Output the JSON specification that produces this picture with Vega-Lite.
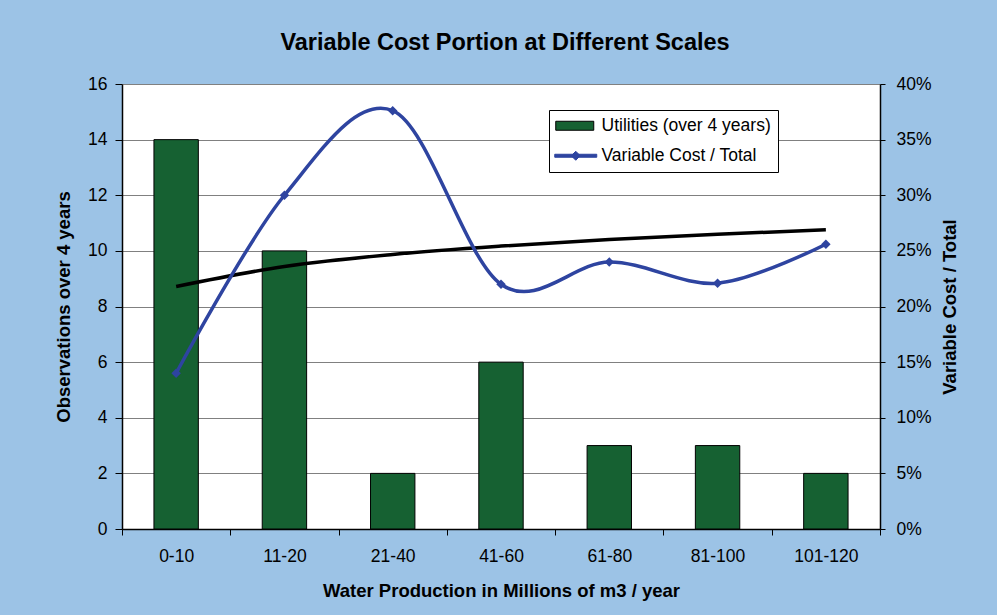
{
  "$schema": "https://vega.github.io/schema/vega-lite/v6.json",
  "autosize": "none",
  "width": 758,
  "height": 445,
  "padding": {"left": 122, "top": 84, "right": 117, "bottom": 86},
  "background": "#9CC3E6",
  "title": {"text": "Variable Cost Portion at Different Scales", "font": "Liberation Sans", "fontSize": 23.5, "fontWeight": "bold", "color": "#000000", "offset": 21, "anchor": "middle", "dx": 4},
  "config": {
    "view": {"stroke": null, "fill": "#FFFFFF"},
    "font": "Liberation Sans",
    "axis": {"labelFont": "Liberation Sans", "titleFont": "Liberation Sans", "labelColor": "#000000", "titleColor": "#000000", "domainColor": "#000000", "tickColor": "#000000", "labelFontSize": 17.5, "titleFontSize": 18.5, "titleFontWeight": "bold"}
  },
  "data": {"values": [
    {"cat": "0-10", "series": "Utilities (over 4 years)", "value": 14},
    {"cat": "11-20", "series": "Utilities (over 4 years)", "value": 10},
    {"cat": "21-40", "series": "Utilities (over 4 years)", "value": 2},
    {"cat": "41-60", "series": "Utilities (over 4 years)", "value": 6},
    {"cat": "61-80", "series": "Utilities (over 4 years)", "value": 3},
    {"cat": "81-100", "series": "Utilities (over 4 years)", "value": 3},
    {"cat": "101-120", "series": "Utilities (over 4 years)", "value": 2},
    {"cat": "0-10", "series": "Variable Cost / Total", "value": 0.14},
    {"cat": "11-20", "series": "Variable Cost / Total", "value": 0.30},
    {"cat": "21-40", "series": "Variable Cost / Total", "value": 0.376},
    {"cat": "41-60", "series": "Variable Cost / Total", "value": 0.22},
    {"cat": "61-80", "series": "Variable Cost / Total", "value": 0.24},
    {"cat": "81-100", "series": "Variable Cost / Total", "value": 0.221},
    {"cat": "101-120", "series": "Variable Cost / Total", "value": 0.256},
    {"cat": "0-10", "series": "Trend", "value": 0.218},
    {"cat": "11-20", "series": "Trend", "value": 0.236},
    {"cat": "21-40", "series": "Trend", "value": 0.2468},
    {"cat": "41-60", "series": "Trend", "value": 0.2543},
    {"cat": "61-80", "series": "Trend", "value": 0.2602},
    {"cat": "81-100", "series": "Trend", "value": 0.2649},
    {"cat": "101-120", "series": "Trend", "value": 0.269}
  ]},
  "encoding": {
    "x": {"field": "cat", "type": "nominal", "sort": null, "scale": {"paddingInner": 0, "paddingOuter": 0},
      "axis": {"title": "Water Production in Millions of m3 / year", "labelAngle": 0, "tickBand": "extent", "tickSize": 6, "labelPadding": 12, "titlePadding": 17, "domainWidth": 1.5, "grid": false}}
  },
  "layer": [
    {
      "layer": [
        {
          "transform": [{"filter": "datum.series === 'Utilities (over 4 years)'"}],
          "mark": {"type": "bar", "width": {"band": 0.41}, "fill": "#166132", "stroke": "#000000", "strokeWidth": 1},
          "encoding": {
            "y": {"field": "value", "type": "quantitative", "scale": {"domain": [0, 16]},
              "axis": {"title": "Observations over 4 years", "values": [0, 2, 4, 6, 8, 10, 12, 14, 16], "grid": true, "gridColor": "#808080", "gridWidth": 1, "gridOpacity": 1, "tickSize": 7, "labelPadding": 8, "titlePadding": 14, "domainWidth": 1.5}}
          }
        },
        {
          "transform": [{"filter": "datum.series !== 'Trend'"}],
          "mark": {"type": "point", "filled": true, "opacity": 0},
          "encoding": {
            "y": {"field": "value", "type": "quantitative"},
            "fill": {"field": "series", "type": "nominal", "scale": {"domain": ["Utilities (over 4 years)", "Variable Cost / Total"], "range": ["#166132", "#2E44A0"]},
              "legend": {"title": null, "orient": "none", "legendX": 427, "legendY": 26, "padding": 7, "fillColor": "#FFFFFF", "strokeColor": "#000000", "labelFontSize": 17.5, "labelFont": "Liberation Sans", "labelColor": "#000000", "labelLimit": 400, "symbolSize": 100, "symbolStrokeWidth": 1, "labelOffset": 28, "rowPadding": 11,
                "encode": {"symbols": {"update": {"fill": {"scale": "fill", "field": "value"}, "stroke": {"scale": "stroke", "field": "value"}, "opacity": {"value": 1}, "fillOpacity": {"value": 1}, "strokeOpacity": {"value": 1}}}}}},
            "shape": {"field": "series", "type": "nominal", "scale": {"domain": ["Utilities (over 4 years)", "Variable Cost / Total"], "range": ["M-1.8,-0.9H5.8V0.9H-1.8Z", "M-2,-0.3H6.4V0.3H-2Z M2.2,-0.9L3.1,0L2.2,0.9L1.3,0Z"]}},
            "stroke": {"field": "series", "type": "nominal", "scale": {"domain": ["Utilities (over 4 years)", "Variable Cost / Total"], "range": ["#000000", "#2E44A0"]}}
          }
        }
      ]
    },
    {
      "layer": [
        {
          "transform": [{"filter": "datum.series === 'Trend'"}],
          "mark": {"type": "line", "color": "#000000", "strokeWidth": 3.5, "interpolate": "monotone"},
          "encoding": {
            "y": {"field": "value", "type": "quantitative", "scale": {"domain": [0, 0.4]},
              "axis": {"orient": "right", "title": "Variable Cost / Total", "titleAngle": 270, "titleBaseline": "top", "format": ".0%", "values": [0, 0.05, 0.1, 0.15, 0.2, 0.25, 0.3, 0.35, 0.4], "grid": false, "tickSize": 5, "labelPadding": 11, "titlePadding": 9, "domainWidth": 1.5}}
          }
        },
        {
          "transform": [{"filter": "datum.series === 'Variable Cost / Total'"}],
          "mark": {"type": "line", "color": "#2E44A0", "strokeWidth": 3.5, "interpolate": "cardinal"},
          "encoding": {"y": {"field": "value", "type": "quantitative"}}
        },
        {
          "transform": [{"filter": "datum.series === 'Variable Cost / Total'"}],
          "mark": {"type": "point", "shape": "diamond", "filled": true, "color": "#2E44A0", "size": 90, "opacity": 1},
          "encoding": {"y": {"field": "value", "type": "quantitative"}}
        }
      ]
    }
  ],
  "resolve": {"scale": {"y": "independent"}}
}
